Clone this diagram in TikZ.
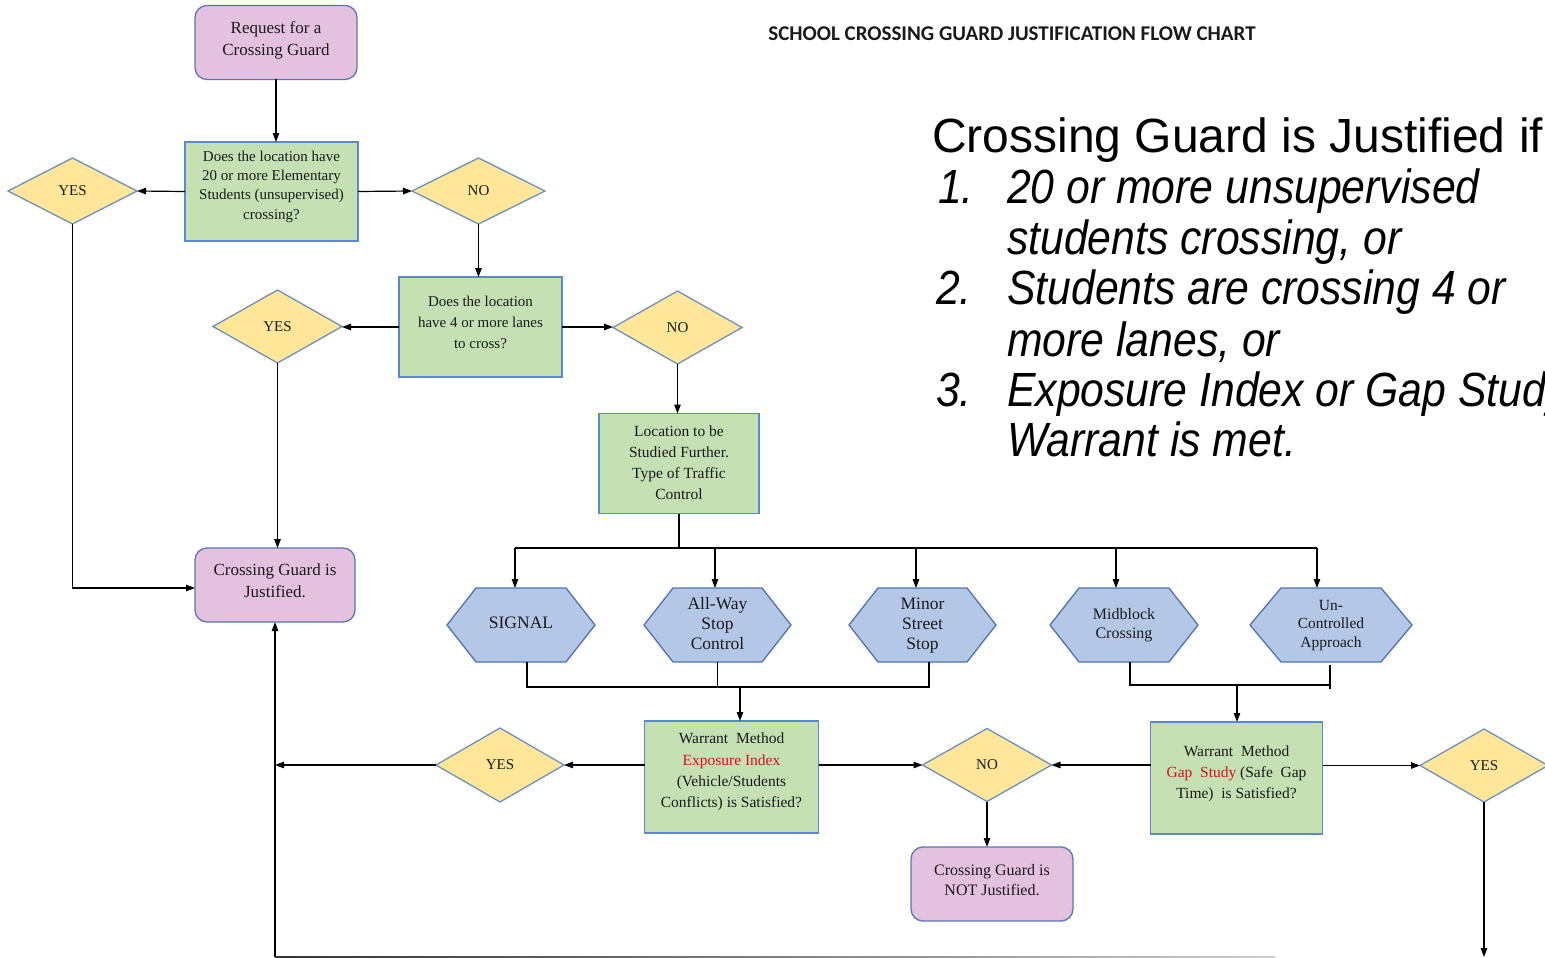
\documentclass[tikz,border=0pt]{standalone}
\usepackage{fontspec}
\setmainfont{Liberation Serif}
\newfontfamily\arialf{Liberation Sans}
\newfontfamily\arialn[FakeStretch=0.89]{Liberation Sans}
\newfontfamily\calib{Carlito}
\usetikzlibrary{arrows.meta,shapes.geometric,backgrounds}
\definecolor{pinkc}{HTML}{E4C1DF}
\definecolor{pinkb}{HTML}{5B77B3}
\definecolor{greenc}{HTML}{C5E0B3}
\definecolor{greenb}{HTML}{5A89CF}
\definecolor{yellowc}{HTML}{FFE699}
\definecolor{yellowb}{HTML}{6E8FC2}
\definecolor{hexc}{HTML}{B4C7E7}
\definecolor{hexb}{HTML}{4F72B2}
\definecolor{redc}{HTML}{D0141E}
\definecolor{textc}{HTML}{1A1A1A}
\newcommand\stk[1]{\begin{tabular}{@{}c@{}}#1\end{tabular}}
\tikzset{
  pinkbox/.style={rectangle, rounded corners=12pt, draw=pinkb, fill=pinkc, line width=1.3pt, inner sep=0pt, outer sep=0pt},
  greenbox/.style={rectangle, draw=greenb, fill=greenc, line width=1.3pt, inner sep=0pt, outer sep=0pt},
  ydia/.style={diamond, draw=yellowb, fill=yellowc, line width=1.3pt, inner sep=0pt, outer sep=0pt, text=textc, font=\fontsize{15}{18}\selectfont},
  hexbox/.style={rectangle, inner sep=0pt, outer sep=0pt, align=center, text=textc},
  hexdraw/.style={draw=hexb, fill=hexc, line width=1.3pt, line join=miter},
  txt/.style={align=center, inner sep=0pt, text=textc},
  arr/.style={-{Triangle[length=9pt,width=6.5pt]}, line width=1.2pt, black},
  ln/.style={line width=1.2pt, black},
  rt/.style={inner sep=0pt, anchor=base west, font=\arialf\fontsize{48}{52}\selectfont},
  rti/.style={rt, font=\arialn\itshape\fontsize{48}{52}\selectfont},
}
\begin{document}
\begin{tikzpicture}[x=1pt,y=-1pt]
\begin{scope}[on background layer]
\fill[white] (0,0) rectangle (1545,958);
\end{scope}
\useasboundingbox (0,0) rectangle (1545,958);

% title
\node[font=\calib\bfseries\fontsize{21}{23}\selectfont, text=textc] (title) at (1012,34) {SCHOOL CROSSING GUARD JUSTIFICATION FLOW CHART};

% right side text
\node[rt] (hd) at (932,152) {Crossing Guard is Justified if};
\node[rti] (n1) at (938,203) {1.};
\node[rti] (t1a) at (1007,203) {20 or more unsupervised};
\node[rti] (t1b) at (1007,254) {students crossing, or};
\node[rti] (n2) at (936,304) {2.};
\node[rti] (t2a) at (1007,304) {Students are crossing 4 or};
\node[rti] (t2b) at (1007,356) {more lanes, or};
\node[rti] (n3) at (936,406) {3.};
\node[rti] (t3a) at (1007,406) {Exposure Index or Gap Study};
\node[rti] (t3b) at (1007,456) {Warrant is met.};

% boxes
\node[pinkbox, minimum width=162pt, minimum height=74pt] (req) at (276,42.5) {};
\node[txt, font=\fontsize{17}{22}\selectfont] (reqt) at (276,40) {Request for a\\Crossing Guard};

\node[greenbox, minimum width=173pt, minimum height=99pt] (q1) at (271.5,191.5) {};
\node[txt, font=\fontsize{15}{19.3}\selectfont] (q1t) at (271.5,186.5) {Does the location have\\20 or more Elementary\\Students (unsupervised)\\crossing?};

\node[ydia, minimum width=129pt, minimum height=66pt] (yes1) at (72.5,191) {YES};
\node[ydia, minimum width=133pt, minimum height=66pt] (no1) at (478.5,191) {NO};

\node[greenbox, minimum width=163pt, minimum height=100pt] (q2) at (480.5,327) {};
\node[txt, font=\fontsize{15}{21}\selectfont] (q2t) at (480.5,322.5) {Does the location\\have 4 or more lanes\\to cross?};

\node[ydia, minimum width=129pt, minimum height=73pt] (yes2) at (277.5,326.5) {YES};
\node[ydia, minimum width=129pt, minimum height=73pt] (no2) at (677.5,327.5) {NO};

\node[greenbox, minimum width=160pt, minimum height=100pt] (loc) at (679,463.5) {};
\node[txt, font=\fontsize{15.5}{21}\selectfont] (loct) at (679,463) {Location to be\\Studied Further.\\Type of Traffic\\Control};

\node[pinkbox, minimum width=160pt, minimum height=74pt] (just) at (275,585) {};
\node[txt, font=\fontsize{17}{22}\selectfont] (justt) at (275,581) {Crossing Guard is\\Justified.};

% hexagons
\node[hexbox, minimum width=148pt, minimum height=74pt, font=\fontsize{17.5}{20}\selectfont] (sig) at (521,625) {\raisebox{5pt}{SIGNAL}};
\node[hexbox, minimum width=147pt, minimum height=74pt, font=\fontsize{17.5}{20}\selectfont] (awy) at (717.5,625) {\raisebox{1pt}{\stk{All-Way\\Stop\\Control}}};
\node[hexbox, minimum width=147pt, minimum height=74pt, font=\fontsize{17.5}{20}\selectfont] (mnr) at (922.5,625) {\raisebox{1pt}{\stk{Minor\\Street\\Stop}}};
\node[hexbox, minimum width=148pt, minimum height=74pt, font=\fontsize{16}{19.5}\selectfont] (mid) at (1124,625) {\raisebox{7pt}{\stk{Midblock\\Crossing}}};
\node[hexbox, minimum width=162pt, minimum height=74pt, font=\fontsize{15.5}{18.5}\selectfont] (unc) at (1331,625) {\raisebox{5pt}{\stk{Un-\\Controlled\\Approach}}};

\begin{scope}[on background layer]
\foreach \h/\d in {sig/29,awy/29,mnr/29,mid/29,unc/31}{
  \draw[hexdraw] (\h.west) -- ([xshift=\d pt]\h.north west) -- ([xshift=-\d pt]\h.north east) -- (\h.east) -- ([xshift=-\d pt]\h.south east) -- ([xshift=\d pt]\h.south west) -- cycle;
}
\end{scope}

% warrant boxes
\node[greenbox, minimum width=174pt, minimum height=112pt] (w1) at (731.5,777) {};
\node[txt, font=\fontsize{15.5}{21.3}\selectfont] (w1t) at (731.5,772) {Warrant\ \ Method\\\textcolor{redc}{Exposure Index}\\(Vehicle/Students\\Conflicts) is Satisfied?};

\node[greenbox, minimum width=172pt, minimum height=112pt] (w2) at (1236.5,778) {};
\node[txt, font=\fontsize{15.5}{21}\selectfont] (w2t) at (1236.5,774) {Warrant\ \ Method\\\textcolor{redc}{Gap\ \ Study} (Safe\ \ Gap\\Time)\ \ is Satisfied?};

\node[ydia, minimum width=128pt, minimum height=74pt] (yes3) at (500,765) {YES};
\node[ydia, minimum width=129pt, minimum height=73pt] (no3) at (987,765) {NO};
\node[ydia, minimum width=128pt, minimum height=73pt] (yes4) at (1484,765.5) {YES};

\node[pinkbox, minimum width=162pt, minimum height=74pt] (notj) at (992,884) {};
\node[txt, font=\fontsize{16}{20.5}\selectfont] (notjt) at (992,880) {Crossing Guard is\\NOT Justified.};

% helper coordinates
\coordinate (b0) at (679,548);
\coordinate (b1) at (515,548);
\coordinate (b2) at (715,548);
\coordinate (b3) at (916,548);
\coordinate (b4) at (1116,548);
\coordinate (b5) at (1317,548);
\coordinate (j1) at (527,687);
\coordinate (j2) at (717.5,687);
\coordinate (j3) at (929,687);
\coordinate (jm) at (740,687);
\coordinate (k1) at (1130,685);
\coordinate (k2) at (1330,685);
\coordinate (km) at (1237,685);
\coordinate (c1) at (275,957);
\coordinate (c2) at (1275,957);
\coordinate (bot) at (1484,957);

% connectors
\draw[arr] (req.south) -- (req.south |- q1.north);
\draw[arr] (q1.west) -- (yes1.east);
\draw[arr] (q1.east) -- (no1.west);
\draw[arr] (no1.south) -- (no1.south |- q2.north);
\draw[arr] (yes1.south) |- ([yshift=-3pt]just.west);
\draw[arr] (q2.west) -- (q2.west -| yes2.east);
\draw[arr] (q2.east) -- (q2.east -| no2.west);
\draw[arr] (no2.south) -- (no2.south |- loc.north);
\draw[arr] (yes2.south) -- (yes2.south |- just.north);

\draw[ln] (loc.south) -- (b0);
\draw[ln] (b1) -- (b5);
\draw[arr] (b1) -- (b1 |- sig.north);
\draw[arr] (b2) -- (b2 |- awy.north);
\draw[arr] (b3) -- (b3 |- mnr.north);
\draw[arr] (b4) -- (b4 |- mid.north);
\draw[arr] (b5) -- (b5 |- unc.north);

\draw[ln] (j1 |- sig.south) -- (j1) -- (j3) -- (j3 |- mnr.south);
\draw[ln] (awy.south) -- (j2);
\draw[arr] (jm) -- (jm |- w1.north);

\draw[ln] (k1 |- mid.south) -- (k1) -- (k2);
\draw[ln] ([yshift=-3pt]k2 |- unc.south) -- ([yshift=-4pt]k2);
\draw[arr] (km) -- (km |- w2.north);

\draw[arr] (w1.west |- yes3.east) -- (yes3.east);
\draw[arr] (yes3.west) -- (yes3.west -| just.south);
\draw[arr] (w1.east |- no3.west) -- (no3.west);
\draw[arr] (w2.west |- no3.east) -- (no3.east);
\draw[arr] (w2.east |- yes4.west) -- (yes4.west);
\draw[arr] (no3.south) -- (no3.south |- notj.north);
\draw[arr] (yes4.south) -- (bot);

\draw[arr] (c1) -- (just.south);
\shade[left color=black!80, right color=black!20] ([yshift=0.7pt]c1) rectangle ([yshift=-0.7pt]c2);
\end{tikzpicture}
\end{document}
